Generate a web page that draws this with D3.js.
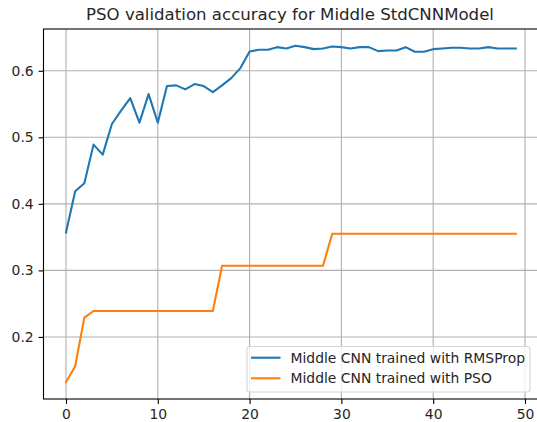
<!DOCTYPE html>
<html>
<head>
<meta charset="utf-8">
<script src="https://cdn.jsdelivr.net/npm/d3@7"></script>
<style>
  body { margin: 0; background: #fff; }
  svg { display: block; }
  text { font-family: "DejaVu Sans", sans-serif; fill: #262626; }
</style>
</head>
<body>
<div id="chart-area"></div>
<script>
// epochs 0..49
const epochs = d3.range(0, 50);

// validation accuracy
const rmspropAcc = [
    0.357, 0.419, 0.431, 0.489, 0.474, 0.520, 0.540, 0.559, 0.522, 0.565,
    0.522, 0.577, 0.578, 0.572, 0.580, 0.577, 0.568, 0.578, 0.589, 0.604,
    0.629, 0.6315, 0.6315, 0.6355, 0.6335, 0.6375, 0.6355, 0.6325, 0.6335, 0.6365,
    0.6355, 0.6335, 0.6355, 0.6355, 0.6295, 0.6305, 0.6305, 0.6355, 0.6285, 0.6285,
    0.6325, 0.6335, 0.6345, 0.6345, 0.6335, 0.6335, 0.6355, 0.6335, 0.6335, 0.6335
];
const psoAcc = [
    0.132, 0.156, 0.229, 0.239, 0.239, 0.239, 0.239, 0.239, 0.239, 0.239,
    0.239, 0.239, 0.239, 0.239, 0.239, 0.239, 0.239, 0.307, 0.307, 0.307,
    0.307, 0.307, 0.307, 0.307, 0.307, 0.307, 0.307, 0.307, 0.307, 0.355,
    0.355, 0.355, 0.355, 0.355, 0.355, 0.355, 0.355, 0.355, 0.355, 0.355,
    0.355, 0.355, 0.355, 0.355, 0.355, 0.355, 0.355, 0.355, 0.355, 0.355
];

const seriesNames = ["Middle CNN trained with RMSProp", "Middle CNN trained with PSO"];
const seriesColors = ["#1f77b4", "#ff7f0e"];
const xTicks = [0, 10, 20, 30, 40, 50];
const yTicks = [0.2, 0.3, 0.4, 0.5, 0.6];
const title = "PSO validation accuracy for Middle StdCNNModel";

const W = 537, H = 422;
// plot box (the right side runs past the window, as in the picture)
const box = {left: 43.5, top: 29, bottom: 399, right: 538.3};

const svg = d3.select("#chart-area").append("svg")
    .attr("width", W)
    .attr("height", H);

// matplotlib style 5% margins
const xPad = (d3.max(epochs) - d3.min(epochs)) * 0.05;
const all = rmspropAcc.concat(psoAcc);
const yMin = d3.min(all), yMax = d3.max(all);
const yPad = (yMax - yMin) * 0.05;

const x = d3.scaleLinear()
    .domain([d3.min(epochs) - xPad, d3.max(epochs) + xPad])
    .range([box.left, box.right]);
const y = d3.scaleLinear()
    .domain([yMin - yPad, yMax + yPad])
    .range([box.bottom, box.top]);

// grid
svg.append("g").selectAll("line")
    .data(xTicks)
    .join("line")
    .attr("x1", d => x(d)).attr("x2", d => x(d))
    .attr("y1", box.top).attr("y2", box.bottom)
    .attr("stroke", "#b0b0b0").attr("stroke-width", 1.1);
svg.append("g").selectAll("line")
    .data(yTicks)
    .join("line")
    .attr("x1", box.left).attr("x2", box.right)
    .attr("y1", d => y(d)).attr("y2", d => y(d))
    .attr("stroke", "#b0b0b0").attr("stroke-width", 1.1);

// axes
const xAxis = svg.append("g")
    .attr("transform", "translate(0," + box.bottom + ")")
    .call(d3.axisBottom(x).tickValues(xTicks).tickFormat(d3.format("d"))
        .tickSize(4.9).tickPadding(4.9));
const yAxis = svg.append("g")
    .attr("transform", "translate(" + box.left + ",0)")
    .call(d3.axisLeft(y).tickValues(yTicks).tickFormat(d3.format(".1f"))
        .tickSize(4.9).tickPadding(4.9));

[xAxis, yAxis].forEach(a => {
    a.select(".domain").remove();
    a.selectAll(".tick line").attr("stroke", "#000").attr("stroke-width", 1.1);
    a.selectAll(".tick text")
        .attr("fill", "#262626")
        .style("font-family", "'DejaVu Sans', sans-serif")
        .style("font-size", "13.9px");
});

// lines
const line = d3.line()
    .x((d, i) => x(epochs[i]))
    .y(d => y(d));

[rmspropAcc, psoAcc].forEach((s, k) => {
    svg.append("path")
        .datum(s)
        .attr("fill", "none")
        .attr("stroke", seriesColors[k])
        .attr("stroke-width", 2.1)
        .attr("stroke-linejoin", "round")
        .attr("stroke-linecap", "square")
        .attr("d", line);
});

// spines
svg.append("rect")
    .attr("x", box.left).attr("y", box.top)
    .attr("width", box.right - box.left).attr("height", box.bottom - box.top)
    .attr("fill", "none")
    .attr("stroke", "#000")
    .attr("stroke-width", 1.1);

// title
svg.append("text")
    .attr("x", 290)
    .attr("y", 20)
    .attr("text-anchor", "middle")
    .style("font-size", "16.6px")
    .text(title);

// legend
const lg = svg.append("g");
lg.append("rect")
    .attr("x", 247).attr("y", 346.5)
    .attr("width", 283).attr("height", 45.5)
    .attr("rx", 3)
    .attr("fill", "#fff").attr("fill-opacity", 0.8)
    .attr("stroke", "#d6d6d6").attr("stroke-width", 1.1);

seriesNames.forEach((name, i) => {
    const ly = 357.7 + i * 20.6;
    lg.append("line")
        .attr("x1", 251).attr("x2", 280.5)
        .attr("y1", ly).attr("y2", ly)
        .attr("stroke", seriesColors[i])
        .attr("stroke-width", 2.1);
    lg.append("text")
        .attr("x", 290.5)
        .attr("y", ly + 4.9)
        .style("font-size", "13.9px")
        .text(name);
});
</script>
</body>
</html>
